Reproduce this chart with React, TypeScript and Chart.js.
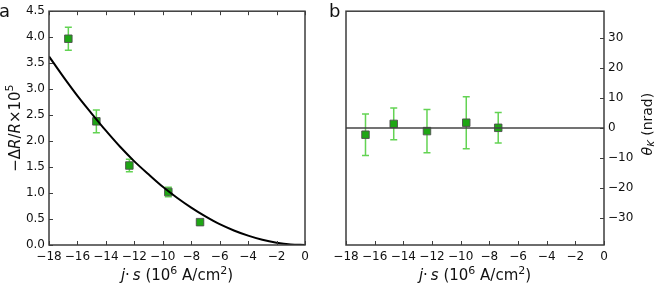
import React, { useEffect, useRef } from 'react';
import { Chart, registerables } from 'chart.js';
Chart.register(...registerables);

// ---------- data ----------
const xTickValues = [-18, -16, -14, -12, -10, -8, -6, -4, -2, 0];
const yTickValuesA = [0, 0.5, 1, 1.5, 2, 2.5, 3, 3.5, 4, 4.5];
const yTickValuesB = [-30, -20, -10, 0, 10, 20, 30];

const currentDensity = [-16.64, -14.67, -12.35, -9.61, -7.38];
const resistanceChange = [3.97, 2.38, 1.53, 1.02, 0.44];
const resistanceError = [0.22, 0.22, 0.12, 0.09, 0.02];

const fitX = [-18, -17, -16, -15, -14, -13, -12, -11, -10, -9, -8, -7, -6, -5, -4, -3, -2, -1, 0];
const fitY = [3.63, 3.24, 2.87, 2.53, 2.2, 1.89, 1.61, 1.36, 1.12, 0.91, 0.72, 0.55, 0.4, 0.28, 0.18, 0.1, 0.045, 0.011, 0];

const kerrAngle = [-2.2, 1.4, -1.0, 1.8, 0.1];
const kerrError = [6.9, 5.3, 7.2, 8.65, 5.1];

const zeroLineX = [-18, 0];
const zeroLineY = [0, 0];

// ---------- styles ----------
const FAM = "'DejaVu Sans', sans-serif";
const TEXT = '#111';
const SPINE = '#3c3c3c';
const MARKER_FILL = '#1ea614';
const MARKER_EDGE = 'rgba(80,80,80,0.9)';
const ERR_COLOR = 'rgba(60,200,40,0.8)';

type Seg = { t: string; it?: boolean; sup?: boolean; sub?: boolean };

function drawRich(ctx: CanvasRenderingContext2D, segs: Seg[], x: number, y: number, size: number) {
  const fontFor = (s: Seg) => `${s.it ? 'italic ' : ''}${s.sup || s.sub ? Math.round(size * 0.7) : size}px ${FAM}`;
  const widths = segs.map((s) => {
    ctx.font = fontFor(s);
    return ctx.measureText(s.t).width;
  });
  const total = widths.reduce((a, b) => a + b, 0);
  let cx = x - total / 2;
  ctx.textAlign = 'left';
  ctx.textBaseline = 'alphabetic';
  segs.forEach((s, i) => {
    ctx.font = fontFor(s);
    const dy = s.sup ? -size * 0.42 : s.sub ? size * 0.22 : 0;
    ctx.fillText(s.t, cx, y + dy);
    cx += widths[i];
  });
}

const xTitle: Seg[] = [
  { t: 'j', it: true },
  { t: '\u00b7\u2009' },
  { t: 's', it: true },
  { t: ' (10' },
  { t: '6', sup: true },
  { t: ' A/cm' },
  { t: '2', sup: true },
  { t: ')' },
];
const yTitleA: Seg[] = [
  { t: '\u2212\u0394' },
  { t: 'R', it: true },
  { t: '/' },
  { t: 'R', it: true },
  { t: '\u00d710' },
  { t: '5', sup: true },
];
const yTitleB: Seg[] = [
  { t: '\u03b8', it: true },
  { t: 'K', it: true, sub: true },
  { t: ' (nrad)' },
];

const framePlugin = {
  id: 'frame',
  beforeDatasetsDraw(chart: any, _args: any, opts: any) {
    const ctx = chart.ctx as CanvasRenderingContext2D;
    const xs = chart.scales.x;
    const ys = chart.scales.y;
    const eb = opts.errors;
    if (!eb) return;
    ctx.save();
    ctx.strokeStyle = ERR_COLOR;
    ctx.lineWidth = 1.5;
    for (let i = 0; i < eb.x.length; i++) {
      const px = xs.getPixelForValue(eb.x[i]);
      const top = ys.getPixelForValue(eb.y[i] + eb.e[i]);
      const bot = ys.getPixelForValue(eb.y[i] - eb.e[i]);
      ctx.beginPath();
      ctx.moveTo(px, top);
      ctx.lineTo(px, bot);
      ctx.moveTo(px - 3.5, top);
      ctx.lineTo(px + 3.5, top);
      ctx.moveTo(px - 3.5, bot);
      ctx.lineTo(px + 3.5, bot);
      ctx.stroke();
    }
    ctx.restore();
  },
  afterDraw(chart: any, _args: any, opts: any) {
    const ctx = chart.ctx as CanvasRenderingContext2D;
    const a = chart.chartArea;
    const xs = chart.scales.x;
    const ys = chart.scales.y;
    ctx.save();
    // ticks
    ctx.strokeStyle = SPINE;
    ctx.lineWidth = 1;
    const TL = 4;
    ctx.beginPath();
    xs.ticks.forEach((t: any) => {
      const px = Math.round(xs.getPixelForValue(t.value)) + 0.5;
      ctx.moveTo(px, a.bottom);
      ctx.lineTo(px, a.bottom - TL);
      if (opts.topTicks) {
        ctx.moveTo(px, a.top);
        ctx.lineTo(px, a.top + TL);
      }
    });
    ys.ticks.forEach((t: any) => {
      const py = Math.round(ys.getPixelForValue(t.value)) + 0.5;
      if (opts.side === 'left') {
        ctx.moveTo(a.left, py);
        ctx.lineTo(a.left + TL, py);
      } else {
        ctx.moveTo(a.right, py);
        ctx.lineTo(a.right - TL, py);
      }
    });
    ctx.stroke();
    // spines
    ctx.lineWidth = 1.5;
    ctx.strokeRect(a.left, a.top, a.right - a.left, a.bottom - a.top);
    // titles
    ctx.fillStyle = TEXT;
    drawRich(ctx, xTitle, (a.left + a.right) / 2, 280, 15);
    const cy = (a.top + a.bottom) / 2;
    ctx.save();
    ctx.translate(opts.yTitleX, cy + (opts.yTitleDy || 0));
    ctx.rotate(-Math.PI / 2);
    drawRich(ctx, opts.side === 'left' ? yTitleA : yTitleB, 0, 0, opts.yTitleSize);
    ctx.restore();
    // panel letter
    ctx.font = `18px ${FAM}`;
    ctx.textAlign = 'left';
    ctx.textBaseline = 'alphabetic';
    ctx.fillText(opts.letter, opts.letterX, 17);
    ctx.restore();
  },
};

const fmtMinus = (v: number, dec = 0) => {
  const s = Math.abs(v).toFixed(dec);
  return v < 0 ? '\u2212' + s : s;
};

function baseScales(yMin: number, yMax: number, yTicks: number[], yPos: string, yWidth: number, yDec: number) {
  return {
    x: {
      type: 'linear',
      position: 'bottom',
      min: -18,
      max: 0,
      afterBuildTicks: (s: any) => {
        s.ticks = xTickValues.map((v) => ({ value: v }));
      },
      afterFit: (s: any) => {
        s.height = 39;
      },
      grid: { display: false, drawTicks: false },
      border: { display: false },
      ticks: {
        color: TEXT,
        font: { family: FAM, size: 12 },
        padding: 5,
        maxRotation: 0,
        autoSkip: false,
        callback: (v: any) => fmtMinus(Number(v)),
      },
    },
    y: {
      type: 'linear',
      position: yPos,
      min: yMin,
      max: yMax,
      afterBuildTicks: (s: any) => {
        s.ticks = yTicks.map((v) => ({ value: v }));
      },
      afterFit: (s: any) => {
        s.width = yWidth;
      },
      grid: { display: false, drawTicks: false },
      border: { display: false },
      ticks: {
        color: TEXT,
        font: { family: FAM, size: 12 },
        padding: 4,
        autoSkip: false,
        callback: (v: any) => fmtMinus(Number(v), yDec),
      },
    },
  };
}

function ChartA() {
  const ref = useRef<HTMLCanvasElement>(null);
  useEffect(() => {
    if (!ref.current) return;
    const chart = new Chart(ref.current, {
      type: 'scatter',
      data: {
        datasets: [
          {
            label: 'fit',
            data: fitX.map((x, i) => ({ x, y: fitY[i] })),
            showLine: true,
            borderColor: '#000',
            borderWidth: 2,
            pointRadius: 0,
            cubicInterpolationMode: 'monotone',
          },
          {
            label: 'data',
            data: currentDensity.map((x, i) => ({ x, y: resistanceChange[i] })),
            pointStyle: 'rect',
            pointRadius: 5.3,
            pointBackgroundColor: MARKER_FILL,
            pointBorderColor: MARKER_EDGE,
            pointBorderWidth: 1,
            showLine: false,
          },
        ],
      } as any,
      options: {
        animation: false,
        responsive: false,
        devicePixelRatio: 1,
        layout: { padding: { left: 0, right: 22, top: 8, bottom: 0 } },
        plugins: {
          legend: { display: false },
          tooltip: { enabled: false },
          frame: {
            side: 'left',
            topTicks: true,
            yTitleX: 19.5,
            yTitleSize: 15,
            letter: 'a',
            letterX: -1,
            errors: { x: currentDensity, y: resistanceChange, e: resistanceError },
          },
        } as any,
        scales: baseScales(0, 4.5, yTickValuesA, 'left', 49, 1) as any,
      },
      plugins: [framePlugin as any],
    });
    return () => chart.destroy();
  }, []);
  return <canvas ref={ref} width={327} height={284} style={{ position: 'absolute', left: 0, top: 0, width: 327, height: 284 }} />;
}

function ChartB() {
  const ref = useRef<HTMLCanvasElement>(null);
  useEffect(() => {
    if (!ref.current) return;
    const chart = new Chart(ref.current, {
      type: 'scatter',
      data: {
        datasets: [
          {
            label: 'zero',
            data: zeroLineX.map((x, i) => ({ x, y: zeroLineY[i] })),
            showLine: true,
            borderColor: '#444',
            borderWidth: 1.5,
            pointRadius: 0,
          },
          {
            label: 'data',
            data: currentDensity.map((x, i) => ({ x, y: kerrAngle[i] })),
            pointStyle: 'rect',
            pointRadius: 5.3,
            pointBackgroundColor: MARKER_FILL,
            pointBorderColor: MARKER_EDGE,
            pointBorderWidth: 1,
            showLine: false,
          },
        ],
      } as any,
      options: {
        animation: false,
        responsive: false,
        devicePixelRatio: 1,
        layout: { padding: { left: 19, right: 0, top: 8, bottom: 0 } },
        plugins: {
          legend: { display: false },
          tooltip: { enabled: false },
          frame: {
            side: 'right',
            topTicks: false,
            yTitleX: 325,
            yTitleDy: -4,
            yTitleSize: 14,
            letter: 'b',
            letterX: 2,
            errors: { x: currentDensity, y: kerrAngle, e: kerrError },
          },
        } as any,
        scales: baseScales(-39, 39, yTickValuesB, 'right', 50, 0) as any,
      },
      plugins: [framePlugin as any],
    });
    return () => chart.destroy();
  }, []);
  return <canvas ref={ref} width={327} height={284} style={{ position: 'absolute', left: 327, top: 0, width: 327, height: 284 }} />;
}

export default function App() {
  return (
    <div style={{ position: 'fixed', left: 0, top: 0, width: 654, height: 284, background: '#fff' }}>
      <ChartA />
      <ChartB />
    </div>
  );
}
